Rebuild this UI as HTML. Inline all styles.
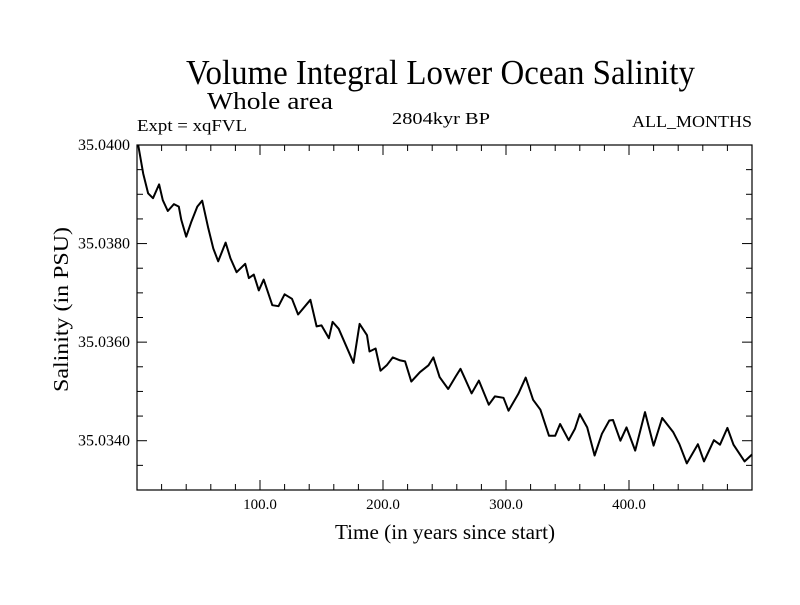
<!DOCTYPE html>
<html><head><meta charset="utf-8"><style>
body{margin:0;background:#fff}
svg text{font-family:"Liberation Serif",serif;fill:#000}
</style></head><body>
<svg width="800" height="600" xmlns="http://www.w3.org/2000/svg">
<rect width="800" height="600" fill="#fff"/>
<text x="186" y="84" font-size="35" textLength="509" lengthAdjust="spacingAndGlyphs">Volume Integral Lower Ocean Salinity</text>
<text x="207" y="109" font-size="24" textLength="126" lengthAdjust="spacingAndGlyphs">Whole area</text>
<text x="137" y="131" font-size="17" textLength="110" lengthAdjust="spacingAndGlyphs">Expt = xqFVL</text>
<text x="392" y="124" font-size="17" textLength="98" lengthAdjust="spacingAndGlyphs">2804kyr BP</text>
<text x="752" y="127" font-size="17" text-anchor="end" textLength="120" lengthAdjust="spacingAndGlyphs">ALL_MONTHS</text>
<text x="335" y="539" font-size="21" textLength="220" lengthAdjust="spacingAndGlyphs">Time (in years since start)</text>
<text transform="translate(68,392) rotate(-90)" font-size="21" textLength="165" lengthAdjust="spacingAndGlyphs">Salinity (in PSU)</text>
<g id="axes"></g>
<rect x="137" y="145" width="615" height="345" fill="none" stroke="#000" stroke-width="1.2"/>
<path id="line" fill="none" stroke="#000" stroke-width="2" stroke-linejoin="round"/>
</svg>
<script>
const years=[1,5,9,13,18,21,25,30,34,36,40,44,49,53,58,62,66,72,76,81,88,91,95,99,103,110,115,120,126,131,141,146,150,156,159,164,176,181,187,189,194,198,203,208,214,218,223,230,237,241,246,253,259,263,267,272,278,286,291,298,302,310,316,322,328,335,340,344,351,356,360,366,372,378,384,387,393,398,405,413,420,427,436,441,447,456,461,469,474,480,485,494,500];
const salinity=[35.0400,35.03942,35.03902,35.03892,35.03920,35.03888,35.03866,35.0388,35.03875,35.03848,35.03814,35.03843,35.03875,35.03887,35.03831,35.03790,35.03764,35.03802,35.03770,35.03742,35.03759,35.03730,35.03737,35.03705,35.03727,35.03675,35.03673,35.03697,35.03688,35.03656,35.03686,35.03632,35.03634,35.03608,35.03641,35.03627,35.03558,35.03637,35.03614,35.03581,35.03587,35.03542,35.03553,35.03569,35.03563,35.03561,35.03520,35.03539,35.03553,35.03569,35.03529,35.03505,35.03530,35.03546,35.03524,35.03496,35.03522,35.03473,35.03490,35.03487,35.03461,35.03495,35.03528,35.03483,35.03463,35.03410,35.03410,35.03434,35.03401,35.03424,35.03454,35.03427,35.03370,35.03414,35.03441,35.03442,35.03400,35.03427,35.03380,35.03458,35.03390,35.03446,35.03417,35.03393,35.03354,35.03393,35.03358,35.03401,35.03392,35.03426,35.03392,35.03358,35.03372];
const xTickLabels=["100.0","200.0","300.0","400.0"];
const yTickLabels=["35.0340","35.0360","35.0380","35.0400"];
const X0=137,X1=752,Y0=145,Y1=490,xmin=0,xmax=500,ymin=35.0330,ymax=35.0400;
const sx=v=>X0+(v-xmin)/(xmax-xmin)*(X1-X0);
const sy=v=>Y1-(v-ymin)/(ymax-ymin)*(Y1-Y0);
const NS="http://www.w3.org/2000/svg";
const g=document.getElementById('axes');
function ln(x1,y1,x2,y2){const l=document.createElementNS(NS,'line');l.setAttribute('x1',x1);l.setAttribute('y1',y1);l.setAttribute('x2',x2);l.setAttribute('y2',y2);l.setAttribute('stroke','#000');l.setAttribute('stroke-width','1');


g.appendChild(l);}
for(let v=20;v<500;v+=20){const x=sx(v),L=(v%100===0)?10:6;ln(x,Y1,x,Y1-L);ln(x,Y0,x,Y0+L);}
for(let i=1;i<14;i++){const v=ymin+i*0.0005;const y=sy(v);const L=(i%4===2)?10:6;ln(X0,y,X0+L,y);ln(X1,y,X1-L,y);}
xTickLabels.forEach(s=>{const t=document.createElementNS(NS,'text');t.setAttribute('x',sx(parseFloat(s)));t.setAttribute('y',509);t.setAttribute('font-size','15');t.setAttribute('text-anchor','middle');t.textContent=s;


g.appendChild(t);});
yTickLabels.forEach(s=>{const t=document.createElementNS(NS,'text');t.setAttribute('x',78);t.setAttribute('y',sy(parseFloat(s))+5);t.setAttribute('font-size','16');t.setAttribute('textLength','52');t.setAttribute('lengthAdjust','spacingAndGlyphs');t.textContent=s;


g.appendChild(t);});
document.getElementById('line').setAttribute('d',years.map((y,i)=>(i?'L':'M')+sx(y).toFixed(1)+','+sy(salinity[i]).toFixed(1)).join(''));
</script>
</body></html>
